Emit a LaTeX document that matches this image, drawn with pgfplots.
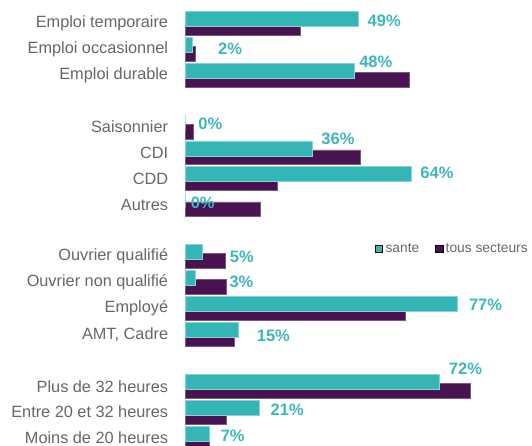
\documentclass[border=0pt]{standalone}
\usepackage{pgfplots}
\usepackage{pgfplotstable}
\pgfplotsset{compat=1.18}
\usepackage{fontspec}
\setmainfont{Liberation Sans}
\definecolor{tealbar}{HTML}{34B6B7}
\definecolor{tealedge}{HTML}{8AD3D4}
\definecolor{tealtxt}{HTML}{3CB8BA}
\definecolor{purpbar}{HTML}{481350}
\definecolor{purpedge}{HTML}{7A5A80}
\definecolor{labgray}{HTML}{666666}

\pgfplotstableread{
y sante tous
0 49 32.8
1 2 3.0
2 48 63.5
4 0 2.4
5 36 49.8
6 64 26.1
7 0 21.2
9 5 11.3
10 3 11.7
11 77 62.4
12 15 13.9
14 72 80.8
15 21 11.6
16 7 7.0
}\datatable

\pgfplotstableread{
x y label
56.43 -0.104 49\%
12.75 1.003 2\%
54.05 1.496 48\%
7.17 3.887 0\%
43.34 4.454 36\%
71.39 5.769 64\%
5.01 6.919 0\%
16.12 8.997 5\%
16.0 9.992 3\%
85.13 10.848 77\%
25.04 12.063 15\%
79.46 13.347 72\%
28.95 14.928 21\%
13.51 15.928 7\%
}\labeltable

\begin{document}
\begin{tikzpicture}
\useasboundingbox (0,0) rectangle (532pt,-445pt);
\clip (0,0) rectangle (532pt,-445pt);
\begin{axis}[
  scale only axis,
  width=347pt, height=445pt,
  at={(185pt,0pt)}, anchor=north west,
  xmin=0, xmax=98.3,
  y dir=reverse,
  ymin=-0.895, ymax=16.267,
  hide x axis,
  axis y line*=left,
  y axis line style={draw=none},
  major tick length=0pt,
  ytick={0,1,2,4,5,6,7,9,10,11,12,14,15,16},
  yticklabels={Emploi temporaire,Emploi occasionnel,Emploi durable,Saisonnier,CDI,CDD,Autres,Ouvrier qualifié,Ouvrier non qualifié,Employé,{AMT, Cadre},Plus de 32 heures,Entre 20 et 32 heures,Moins de 20 heures},
  yticklabel style={anchor=east, inner sep=0pt, xshift=-16.7pt, color=labgray, font=\fontsize{16.3}{18}\selectfont},
  legend columns=2,
  legend style={at={(axis cs:53.8,8.697)}, anchor=west, draw=none, fill=none, inner sep=0pt,
    font=\fontsize{13.8}{16}\selectfont, text=labgray,
    nodes={inner sep=0pt, text=labgray},
    column sep=2.7pt,
    /tikz/every even column/.append style={column sep=16pt}},
  legend image code/.code={\fill[#1] (0pt,-3.6pt) rectangle (7.3pt,3.6pt);},
]
\addlegendimage{fill=tealbar}
\addlegendentry{sante}
\addlegendimage{fill=purpbar}
\addlegendentry{tous secteurs}

\addplot[forget plot, xbar, bar width=14.8pt, bar shift=-4.5pt, fill=purpbar, draw=purpedge, line width=0.6pt]
  table[x=tous, y=y] {\datatable};
\addplot[forget plot, xbar, bar width=15pt, bar shift=4.5pt, fill=tealbar, draw=tealedge, line width=0.6pt]
  table[x=sante, y=y] {\datatable};

\addplot[forget plot, draw=none, mark=none, nodes near coords, point meta=explicit symbolic,
  nodes near coords style={anchor=center, inner sep=0pt, text=tealtxt, font=\fontsize{16.5}{18}\selectfont\bfseries}]
  table[x=x, y=y, meta=label] {\labeltable};
\end{axis}
\end{tikzpicture}
\end{document}
